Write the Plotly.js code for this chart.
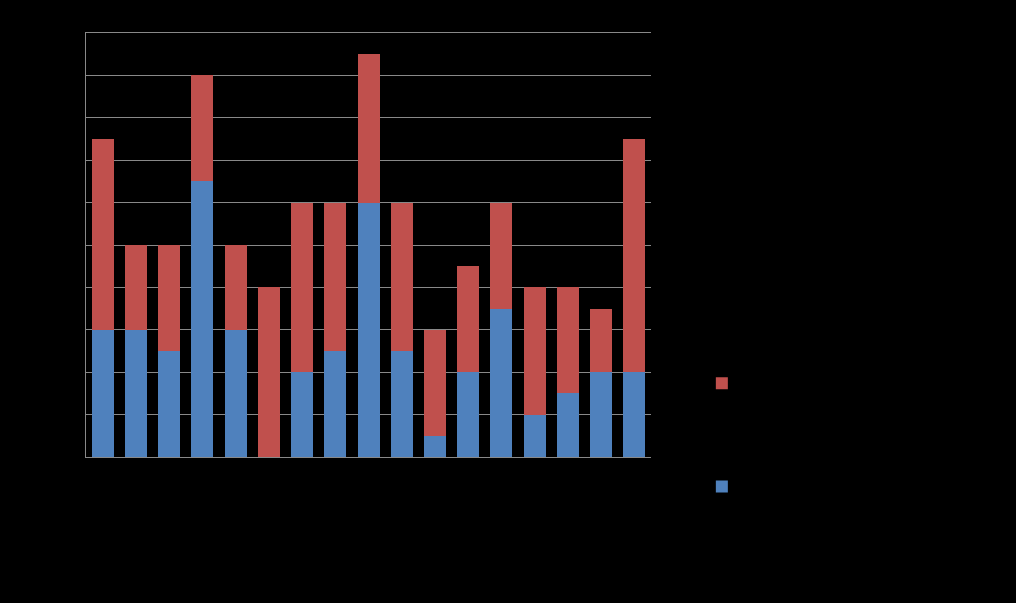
<!DOCTYPE html>
<html>
<head>
<meta charset="utf-8">
<script src="https://cdn.plot.ly/plotly-3.0.1.min.js"></script>
<style>html,body{margin:0;padding:0;background:#000;}#chart{width:1016px;height:603px;}</style>
</head>
<body>
<div id="chart"></div>
<script>
var categories = ['1','2','3','4','5','6','7','8','9','10','11','12','13','14','15','16','17'];
var series1Name = 'Series1';
var series2Name = 'Series2';
var series1 = [3, 3, 2.5, 6.5, 3, 0, 2, 2.5, 6, 2.5, 0.5, 2, 3.5, 1, 1.5, 2, 2];
var series2 = [4.5, 2, 2.5, 2.5, 2, 4, 4, 3.5, 3.5, 3.5, 2.5, 2.5, 2.5, 3, 2.5, 1.5, 5.5];

var traces = [
  {type:'bar', x:categories, y:series1, name:series1Name, marker:{color:'#4F81BD'}, legendgroup:'b', legendrank:2},
  {type:'bar', x:categories, y:series2, name:series2Name, marker:{color:'#C0504D'}, legendgroup:'a', legendrank:1}
];

var layout = {
  width:1016, height:603,
  margin:{l:86, r:365, t:33, b:146},
  paper_bgcolor:'#000', plot_bgcolor:'#000',
  barmode:'stack', bargap:0.338,
  font:{family:'Liberation Sans, Arial, sans-serif', color:'#000', size:14},
  xaxis:{type:'category', showline:true, mirror:true, linecolor:'#898989', linewidth:1, showgrid:false, ticks:'', tickfont:{color:'#000'}, zeroline:false},
  yaxis:{range:[0,10], dtick:1, showline:true, linecolor:'#898989', linewidth:1, showgrid:true, gridcolor:'#898989', gridwidth:1, ticks:'', tickfont:{color:'#000'}, zeroline:false},
  showlegend:true,
  legend:{x:1.09, xanchor:'left', y:0.052, yanchor:'middle', traceorder:'grouped', tracegroupgap:77, font:{size:18, color:'#000'}, bgcolor:'rgba(0,0,0,0)'}
};

Plotly.newPlot('chart', traces, layout, {displayModeBar:false, staticPlot:true});
</script>
</body>
</html>
